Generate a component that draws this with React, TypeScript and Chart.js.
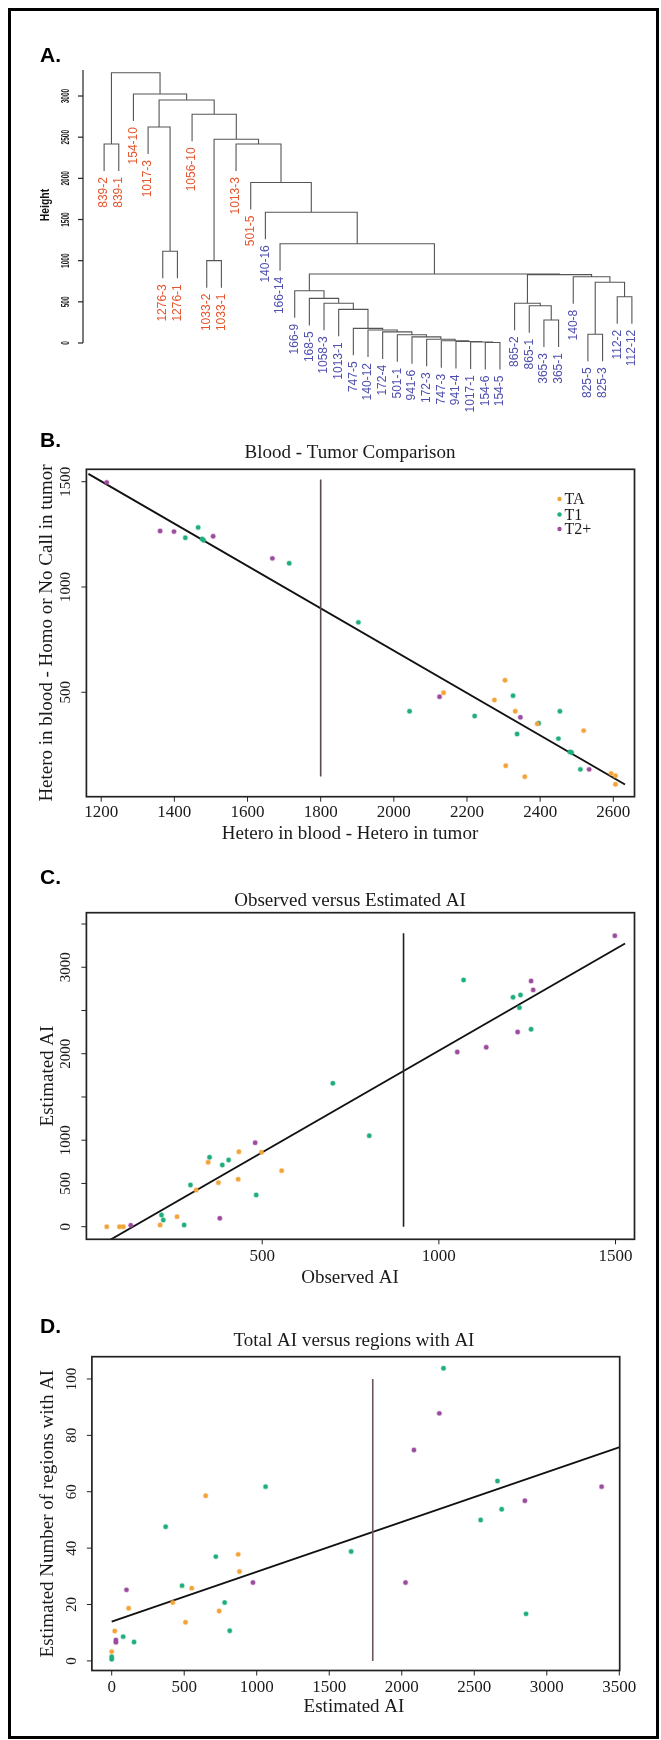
import React, { useEffect, useRef } from "react";
import { Chart, registerables } from "chart.js";
Chart.register(...registerables);

// ---------------- Panel A : dendrogram ----------------
const leafLabels = ["839-2","839-1","154-10","1017-3","1276-3","1276-1","1056-10","1033-2","1033-1","1013-3","501-5","140-16","166-14","166-9","168-5","1058-3","1013-1","747-5","140-12","172-4","501-1","941-6","172-3","747-3","941-4","1017-1","154-6","154-5","865-2","865-1","365-3","365-1","140-8","825-5","825-3","112-2","112-12"];
const leafIsRed = [1,1,1,1,1,1,1,1,1,1,1,0,0,0,0,0,0,0,0,0,0,0,0,0,0,0,0,0,0,0,0,0,0,0,0,0,0];
const mergeLeft = [-27,-26,-25,-24,-23,-22,-21,-34,-20,-19,-18,-31,-17,-30,-16,-29,-15,-36,-14,8,-33,16,19,-8,-5,-13,-12,-11,-1,-10,24,-4,-7,32,-3,29];
const mergeRight = [-28,1,2,3,4,5,6,-35,7,9,10,-32,11,12,13,14,15,-37,17,18,20,21,22,-9,-6,23,26,27,-2,28,30,25,31,33,34,35];
const mergeHeight = [6,12,18,28,45,75,100,106,135,158,178,279,409,453,482,482,542,562,635,737,805,830,838,1000,1115,1206,1589,1950,2417,2417,2474,2624,2778,2951,3024,3283];
const heightTicks = [0,500,1000,1500,2000,2500,3000];

// ---------------- Panel B ----------------
const bTAx = [2136,2304,2275,2332,2519,2306,2358,2594,2606,2606,2392];
const bTAy = [498,557,463,410,318,151,99,115,104,63,350];
const bT1x = [1465,1430,1480,1476,1714,1903,2043,2221,2326,2396,2454,2337,2450,2481,2486,2510];
const bT1y = [1283,1234,1222,1228,1113,832,410,387,484,353,410,302,280,217,214,134];
const bT2x = [1215,1361,1399,1506,1668,2125,2346,2534];
const bT2y = [1497,1266,1263,1241,1136,479,381,134];
const bFitX = [1165,2632];
const bFitY = [1537,62];
const bCutX = [1800,1800];
const bCutY = [100,1510];
const bXTicks = [1200,1400,1600,1800,2000,2200,2400,2600];
const bYTicks = [500,1000,1500];

// ---------------- Panel C ----------------
const cTAx = [434,498,347,555,432,376,313,60,96,107,211,259];
const cTAy = [867,860,745,648,548,509,424,0,0,0,20,116];
const cT1x = [1070,1210,1231,1228,1261,700,803,351,405,387,297,483,215,220,279];
const cT1y = [2853,2653,2680,2533,2283,1658,1052,803,771,714,482,367,135,77,20];
const cT2x = [1498,1261,1267,1223,1134,1052,480,128,380];
const cT2y = [3365,2842,2738,2252,2075,2020,971,16,97];
const cFitX = [70,1527];
const cFitY = [-151,3275];
const cCutX = [900,900];
const cCutY = [0,3393];
const cXTicks = [500,1000,1500];
const cYTicks = [0,500,1000,1500,2000,2500,3000,3500];
const cYLabels = [0,500,1000,2000,3000];

// ---------------- Panel D ----------------
const dTAx = [648,872,881,552,117,421,741,509,21,0];
const dTAy = [58.6,37.8,31.7,25.8,18.7,20.7,17.7,13.7,10.6,3.3];
const dT1x = [2288,2660,1061,2689,2544,372,1651,718,485,779,814,2857,79,154,0,0];
const dT1y = [103.8,63.8,61.8,53.8,50.0,47.6,38.8,37.0,26.7,20.7,10.7,16.7,8.6,6.7,0.6,1.5];
const dT2x = [2259,2084,3378,2849,974,2026,102,29,29];
const dT2y = [87.8,74.8,61.8,56.8,27.8,27.8,25.2,7.4,6.6];
const dFitX = [0,3503];
const dFitY = [13.9,75.8];
const dCutX = [1800,1800];
const dCutY = [0,100];
const dXTicks = [0,500,1000,1500,2000,2500,3000,3500];
const dYTicks = [0,20,40,60,80,100];

const groupNames = ["TA","T1","T2+"];
const groupColors = ["#F2A43A","#1FAE7C","#9C4C9F"];

const SERIF = '"Liberation Serif", "Times New Roman", serif';
const SANS = '"Liberation Sans", Arial, sans-serif';

function buildDendro() {
  const hang = 0.1 * Math.max(...mergeHeight);
  const cx: number[] = [];
  const pts: { x: number; y: number | null }[] = [];
  const leafEnd: number[] = new Array(leafLabels.length).fill(0);
  const child = (id: number, h: number) => {
    if (id < 0) {
      const i = -id - 1;
      leafEnd[i] = h - hang;
      return { x: i + 1, y: h - hang };
    }
    return { x: cx[id - 1], y: mergeHeight[id - 1] };
  };
  mergeHeight.forEach((h, k) => {
    const a = child(mergeLeft[k], h);
    const b = child(mergeRight[k], h);
    pts.push({ x: a.x, y: a.y }, { x: a.x, y: h }, { x: b.x, y: h }, { x: b.x, y: b.y }, { x: b.x, y: null });
    cx[k] = (a.x + b.x) / 2;
  });
  return { pts, leafEnd };
}
const dendro = buildDendro();

const xy = (xs: number[], ys: number[]) => xs.map((v, i) => ({ x: v, y: ys[i] }));

function pointsDS(xs: number[], ys: number[], color: string) {
  return {
    data: xy(xs, ys),
    backgroundColor: color,
    borderColor: color + "50",
    borderWidth: 1.4,
    pointRadius: 2.2,
    showLine: false,
  };
}
function lineDS(xs: number[], ys: number[], color: string, width: number) {
  return {
    data: xy(xs, ys),
    borderColor: color,
    backgroundColor: color,
    borderWidth: width,
    pointRadius: 0,
    showLine: true,
    fill: false,
  };
}

function line(ctx: CanvasRenderingContext2D, x1: number, y1: number, x2: number, y2: number) {
  ctx.beginPath();
  ctx.moveTo(x1, y1);
  ctx.lineTo(x2, y2);
  ctx.stroke();
}

type Spec = {
  top: number;
  letter: string; letterY: number;
  title: string; titleX: number; titleY: number;
  xTitle: string; xTitleX: number; xTitleY: number;
  yTitle: string; yTitleX: number;
  xTicks: number[]; yTicks: number[]; yLabels: number[];
  xLabY: number; yLabX: number;
  legend?: boolean;
};

function rPlugin(s: Spec) {
  return {
    id: "rframe",
    afterDatasetsDraw(chart: any) {
      const { ctx, chartArea: ca, scales } = chart;
      const x = scales.x, y = scales.y;
      const T = s.top;
      ctx.save();
      ctx.strokeStyle = "#222";
      ctx.lineWidth = 1.7;
      ctx.strokeRect(ca.left, ca.top, ca.right - ca.left, ca.bottom - ca.top);
      ctx.lineWidth = 1;
      ctx.fillStyle = "#1a1a1a";
      ctx.font = `17px ${SERIF}`;
      ctx.textAlign = "center";
      ctx.textBaseline = "alphabetic";
      s.xTicks.forEach((v) => {
        const px = x.getPixelForValue(v);
        line(ctx, px, ca.bottom, px, ca.bottom + 5);
        ctx.fillText(String(v), px, s.xLabY - T);
      });
      ctx.font = `15px ${SERIF}`;
      s.yTicks.forEach((v) => {
        const py = y.getPixelForValue(v);
        line(ctx, ca.left - 5, py, ca.left, py);
        if (s.yLabels.includes(v)) {
          ctx.save();
          ctx.translate(s.yLabX, py);
          ctx.rotate(-Math.PI / 2);
          ctx.textAlign = "center";
          ctx.textBaseline = "middle";
          ctx.fillText(String(v), 0, 0);
          ctx.restore();
        }
      });
      ctx.font = `19px ${SERIF}`;
      ctx.textAlign = "center";
      ctx.textBaseline = "alphabetic";
      ctx.fillText(s.title, s.titleX, s.titleY - T);
      ctx.fillText(s.xTitle, s.xTitleX, s.xTitleY - T);
      ctx.save();
      ctx.translate(s.yTitleX, (ca.top + ca.bottom) / 2);
      ctx.rotate(-Math.PI / 2);
      ctx.textBaseline = "middle";
      ctx.fillText(s.yTitle, 0, 0);
      ctx.restore();
      ctx.font = `bold 21px ${SANS}`;
      ctx.textAlign = "left";
      ctx.fillStyle = "#000";
      ctx.fillText(s.letter, 40, s.letterY - T);
      if (s.legend) {
        ctx.font = `16px ${SERIF}`;
        ctx.textBaseline = "middle";
        const ys = [499, 514.5, 529];
        groupNames.forEach((g, i) => {
          ctx.fillStyle = groupColors[i];
          ctx.beginPath();
          ctx.arc(559.5, ys[i] - T, 2.2, 0, Math.PI * 2);
          ctx.fill();
          ctx.fillStyle = "#1a1a1a";
          ctx.fillText(g, 564.5, ys[i] - T + 1);
        });
      }
      ctx.restore();
    },
  };
}

const aPlugin = {
  id: "aaxis",
  afterDatasetsDraw(chart: any) {
    const { ctx, chartArea: ca, scales } = chart;
    const x = scales.x, y = scales.y;
    ctx.save();
    ctx.font = `12px ${SANS}`;
    leafLabels.forEach((lab, i) => {
      const px = x.getPixelForValue(i + 1);
      const py = y.getPixelForValue(dendro.leafEnd[i]) + 6;
      ctx.save();
      ctx.translate(px, py);
      ctx.rotate(-Math.PI / 2);
      ctx.textAlign = "right";
      ctx.textBaseline = "middle";
      ctx.fillStyle = leafIsRed[i] ? "#E5562E" : "#4F4FAE";
      ctx.fillText(lab, 0, 0);
      ctx.restore();
    });
    ctx.strokeStyle = "#222";
    ctx.lineWidth = 1.2;
    line(ctx, ca.left, y.getPixelForValue(0), ca.left, ca.top);
    ctx.fillStyle = "#1a1a1a";
    ctx.font = `bold 10.5px ${SANS}`;
    heightTicks.forEach((v) => {
      const py = y.getPixelForValue(v);
      line(ctx, ca.left - 5, py, ca.left, py);
      ctx.save();
      ctx.translate(66, py);
      ctx.rotate(-Math.PI / 2);
      ctx.scale(0.62, 1);
      ctx.textAlign = "center";
      ctx.textBaseline = "middle";
      ctx.fillText(String(v), 0, 0);
      ctx.restore();
    });
    ctx.save();
    ctx.translate(45.5, 205);
    ctx.rotate(-Math.PI / 2);
    ctx.font = `bold 13px ${SANS}`;
    ctx.scale(0.8, 1);
    ctx.textAlign = "center";
    ctx.textBaseline = "middle";
    ctx.fillStyle = "#111";
    ctx.fillText("Height", 0, 0);
    ctx.restore();
    ctx.font = `bold 21px ${SANS}`;
    ctx.fillStyle = "#000";
    ctx.textAlign = "left";
    ctx.textBaseline = "alphabetic";
    ctx.fillText("A.", 40, 62);
    ctx.restore();
  },
};

function baseOptions(pad: any, xr: number[], yr: number[]) {
  return {
    responsive: false,
    animation: false as const,
    devicePixelRatio: 1,
    events: [] as any[],
    layout: { padding: pad },
    plugins: { legend: { display: false }, tooltip: { enabled: false }, title: { display: false } },
    scales: {
      x: { type: "linear" as const, display: false, min: xr[0], max: xr[1] },
      y: { type: "linear" as const, display: false, min: yr[0], max: yr[1] },
    },
  };
}

function scatterConfig(
  groupsX: number[][], groupsY: number[][],
  fitX: number[], fitY: number[], cutX: number[], cutY: number[], cutColor: string,
  pad: any, xr: number[], yr: number[], spec: Spec
): any {
  return {
    type: "scatter",
    data: {
      datasets: [
        lineDS(cutX, cutY, cutColor, 1.6),
        ...groupsX.map((gx, i) => pointsDS(gx, groupsY[i], groupColors[i])),
        lineDS(fitX, fitY, "#111", 1.9),
      ],
    },
    options: baseOptions(pad, xr, yr),
    plugins: [rPlugin(spec)],
  };
}

export default function App() {
  const aRef = useRef<HTMLCanvasElement>(null);
  const bRef = useRef<HTMLCanvasElement>(null);
  const cRef = useRef<HTMLCanvasElement>(null);
  const dRef = useRef<HTMLCanvasElement>(null);

  useEffect(() => {
    const charts: Chart[] = [];
    charts.push(
      new Chart(aRef.current!, {
        type: "scatter",
        data: {
          datasets: [
            {
              data: dendro.pts as any,
              showLine: true,
              spanGaps: false,
              borderColor: "#555",
              borderWidth: 1.1,
              pointRadius: 0,
              clip: false as any,
            } as any,
          ],
        },
        options: baseOptions({ left: 83, top: 70, right: 8, bottom: 77 }, [-0.44, 38.44], [0, 3316]) as any,
        plugins: [aPlugin],
      })
    );
    charts.push(
      new Chart(
        bRef.current!,
        scatterConfig(
          [bTAx, bT1x, bT2x], [bTAy, bT1y, bT2y],
          bFitX, bFitY, bCutX, bCutY, "#574a4a",
          { left: 86.4, top: 49.3, right: 26.5, bottom: 53.3 }, [1159.5, 2658], [4, 1559],
          {
            top: 420, letter: "B.", letterY: 447,
            title: "Blood - Tumor Comparison", titleX: 350, titleY: 458,
            xTitle: "Hetero in blood - Hetero in tumor", xTitleX: 350, xTitleY: 839,
            yTitle: "Hetero in blood - Homo or No Call in tumor", yTitleX: 47,
            xTicks: bXTicks, yTicks: bYTicks, yLabels: bYTicks,
            xLabY: 817, yLabX: 66, legend: true,
          }
        )
      )
    );
    charts.push(
      new Chart(
        cRef.current!,
        scatterConfig(
          [cTAx, cT1x, cT2x], [cTAy, cT1y, cT2y],
          cFitX, cFitY, cCutX, cCutY, "#222",
          { left: 86.4, top: 62.7, right: 26.5, bottom: 50.7 }, [2.4, 1553.7], [-146, 3631],
          {
            top: 850, letter: "C.", letterY: 884,
            title: "Observed versus Estimated AI", titleX: 350, titleY: 906,
            xTitle: "Observed AI", xTitleX: 350, xTitleY: 1283,
            yTitle: "Estimated AI", yTitleX: 48.5,
            xTicks: cXTicks, yTicks: cYTicks, yLabels: cYLabels,
            xLabY: 1261, yLabX: 66,
          }
        )
      )
    );
    charts.push(
      new Chart(
        dRef.current!,
        scatterConfig(
          [dTAx, dT1x, dT2x], [dTAy, dT1y, dT2y],
          dFitX, dFitY, dCutX, dCutY, "#6a5656",
          { left: 91.9, top: 66.7, right: 41.3, bottom: 69.5 }, [-136.5, 3502.7], [-3.4, 107.9],
          {
            top: 1290, letter: "D.", letterY: 1333,
            title: "Total AI versus regions with AI", titleX: 354, titleY: 1346,
            xTitle: "Estimated AI", xTitleX: 354, xTitleY: 1712,
            yTitle: "Estimated Number of regions with AI", yTitleX: 48.5,
            xTicks: dXTicks, yTicks: dYTicks, yLabels: dYTicks,
            xLabY: 1692, yLabX: 72,
          }
        )
      )
    );
    return () => charts.forEach((c) => c.destroy());
  }, []);

  const cs = (top: number): React.CSSProperties => ({ position: "absolute", left: 0, top, display: "block" });
  return (
    <div style={{ position: "absolute", left: 0, top: 0, width: 661, height: 1740, background: "#fff", overflow: "hidden" }}>
      <div style={{ position: "absolute", left: 8, top: 8, width: 651, height: 1731, border: "3px solid #000", boxSizing: "border-box" }} />
      <canvas ref={aRef} width={661} height={420} style={cs(0)} />
      <canvas ref={bRef} width={661} height={430} style={cs(420)} />
      <canvas ref={cRef} width={661} height={440} style={cs(850)} />
      <canvas ref={dRef} width={661} height={450} style={cs(1290)} />
    </div>
  );
}
